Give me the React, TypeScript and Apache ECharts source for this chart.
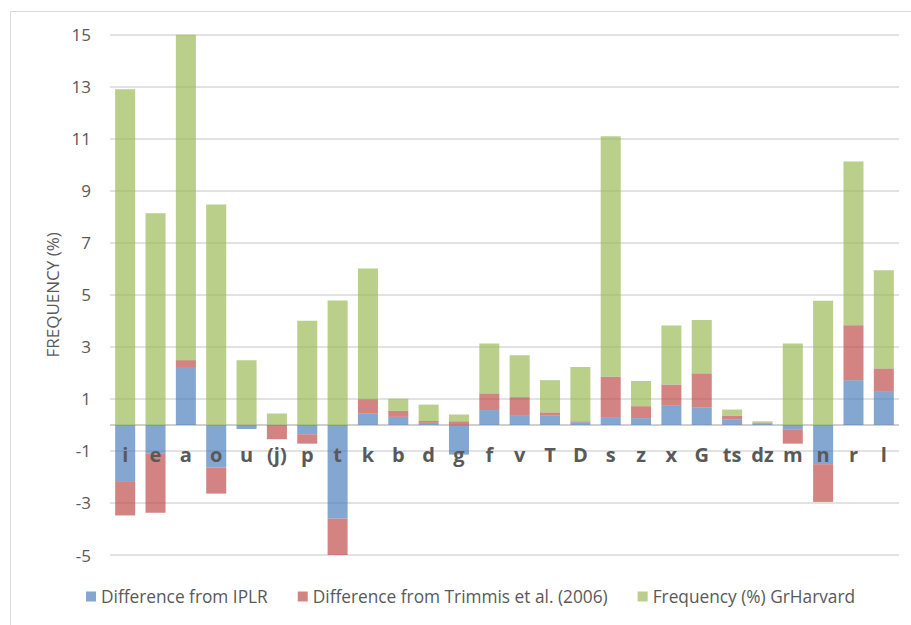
import React, { useEffect, useRef } from "react";
import * as echarts from "echarts";

const categories = ["i", "e", "a", "o", "u", "(j)", "p", "t", "k", "b", "d", "g", "f", "v", "T", "D", "s", "z", "x", "G", "ts", "dz", "m", "n", "r", "l"];
const diffIPLR = [-2.17, -1.1, 2.19, -1.64, -0.16, 0, -0.36, -3.6, 0.44, 0.31, 0.08, -1.14, 0.57, 0.35, 0.37, 0.1, 0.3, 0.26, 0.76, 0.67, 0.21, 0.05, -0.17, -1.51, 1.72, 1.3];
const diffTrimmis = [-1.31, -2.28, 0.3, -1.0, 0, -0.55, -0.36, -1.45, 0.55, 0.23, 0.07, 0.14, 0.64, 0.72, 0.11, 0.04, 1.55, 0.46, 0.79, 1.31, 0.14, 0.04, -0.55, -1.45, 2.11, 0.87];
const freqGrHarvard = [12.9, 8.14, 12.51, 8.47, 2.49, 0.44, 4.0, 4.78, 5.02, 0.47, 0.63, 0.26, 1.92, 1.61, 1.24, 2.09, 9.25, 0.97, 2.27, 2.05, 0.24, 0.05, 3.13, 4.77, 6.3, 3.78];
const seriesNames = ["Difference from IPLR", "Difference from Trimmis et al. (2006)", "Frequency (%) GrHarvard"];
const yTickValues = [-5, -3, -1, 1, 3, 5, 7, 9, 11, 13, 15];
const yMin = -5;
const yMax = 15;

const FONT = '"Open Sans", "Liberation Sans", sans-serif';
const TEXT = "#595959";

export default function App() {
  const ref = useRef<HTMLDivElement>(null);
  useEffect(() => {
    if (!ref.current) return;
    const chart = echarts.init(ref.current, undefined, { renderer: "svg" });
    const colors = ["#4F81BD", "#C0504D", "#9BBB59"];
    const datas = [diffIPLR, diffTrimmis, freqGrHarvard];
    const gridColors: string[] = [];
    for (let v = yMin; v <= yMax; v++) {
      gridColors.push(yTickValues.indexOf(v) >= 0 ? "#D9D9D9" : v === 0 ? "#BFBFBF" : "rgba(0,0,0,0)");
    }
    const gridTop = 34.7;
    const gridBottom = 70;
    const plotH = 625 - gridTop - gridBottom;
    const zeroFromBottom = (plotH * (0 - yMin)) / (yMax - yMin);
    chart.setOption({
      animation: false,
      textStyle: { fontFamily: FONT },
      grid: { left: 110, right: 12, top: gridTop, bottom: gridBottom },
      legend: {
        left: 86,
        top: 588,
        width: 820,
        padding: 0,
        itemWidth: 10,
        itemHeight: 10,
        itemGap: 30,
        icon: "rect",
        textStyle: { fontSize: 17.3, color: TEXT, fontFamily: FONT },
        data: seriesNames.map((n, i) => ({ name: n, itemStyle: { color: colors[i], opacity: 0.7 } })),
      },
      xAxis: {
        type: "category",
        data: categories,
        z: 10,
        axisLine: { show: false, onZero: false },
        axisTick: { show: false },
        axisLabel: {
          interval: 0,
          margin: 20 - zeroFromBottom,
          fontSize: 20,
          fontWeight: "bold",
          color: TEXT,
          fontFamily: FONT,
        },
      },
      yAxis: {
        type: "value",
        min: yMin,
        max: yMax,
        interval: 1,
        name: "FREQUENCY (%)",
        nameLocation: "middle",
        nameGap: 48,
        nameTextStyle: { fontSize: 17, color: TEXT, fontFamily: FONT },
        axisLine: { show: false },
        axisTick: { show: false },
        axisLabel: {
          margin: 19,
          fontSize: 17,
          color: TEXT,
          fontFamily: FONT,
          formatter: (v: number) => (yTickValues.indexOf(v) >= 0 ? String(v) : ""),
        },
        splitLine: { show: true, lineStyle: { color: gridColors, width: 1.5 } },
      },
      graphic: [
        { type: "line", shape: { x1: 10.5, y1: 11.5, x2: 911, y2: 11.5 }, style: { stroke: "#D9D9D9", lineWidth: 1 }, silent: true },
        { type: "line", shape: { x1: 10.5, y1: 11.5, x2: 10.5, y2: 625 }, style: { stroke: "#D9D9D9", lineWidth: 1 }, silent: true },
      ],
      series: seriesNames.map((n, i) => ({
        name: n,
        type: "bar",
        stack: "total",
        barCategoryGap: "34%",
        data: datas[i],
        itemStyle: { color: colors[i], opacity: 0.7 },
      })),
    });
    return () => chart.dispose();
  }, []);
  return <div ref={ref} style={{ position: "absolute", left: 0, top: 0, width: 911, height: 625 }} />;
}
